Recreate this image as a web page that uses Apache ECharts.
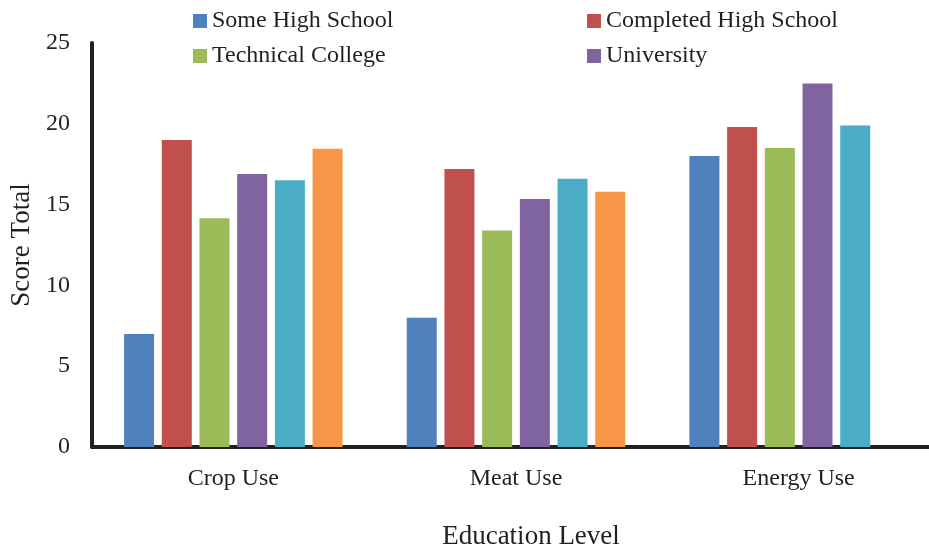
<!DOCTYPE html>
<html>
<head>
<meta charset="utf-8">
<script src="https://cdn.jsdelivr.net/npm/echarts@6/dist/echarts.min.js"></script>
<style>
  html, body { margin: 0; padding: 0; background: #fff; }
  #chart { width: 929px; height: 547px; }
</style>
</head>
<body>
<div id="chart"></div>
<script>
// Score totals by usage category and education level
const categories = ['Crop Use', 'Meat Use', 'Energy Use'];
const someHighSchool      = [7.0, 8.0, 18.0];
const completedHighSchool = [19.0, 17.2, 19.8];
const technicalCollege    = [14.15, 13.4, 18.5];
const university          = [16.9, 15.35, 22.5];
const postgraduate        = [16.5, 16.6, 19.9];
const otherEducation      = [18.45, 15.8, null];
const yTicks = { min: 0, max: 25, interval: 5 };

const FONT = 'Liberation Serif';
const INK = '#231f20';

const chart = echarts.init(document.getElementById('chart'), null, { renderer: 'canvas' });

const mk = (name, data, color) => ({
  name, type: 'bar', data,
  barGap: '25.7%', barCategoryGap: '22.7%',
  itemStyle: { color },
  emphasis: { disabled: true }
});

const legendText = { fontFamily: FONT, fontSize: 24, color: INK };

chart.setOption({
  animation: false,
  textStyle: { fontFamily: FONT },
  legend: [
    {
      data: ['Some High School', 'Technical College'],
      orient: 'vertical', left: 193, top: 9, padding: 0,
      itemWidth: 14, itemHeight: 14, itemGap: 11,
      icon: 'rect', textStyle: legendText, selectedMode: false
    },
    {
      data: ['Completed High School', 'University'],
      orient: 'vertical', left: 587, top: 9, padding: 0,
      itemWidth: 14, itemHeight: 14, itemGap: 11,
      icon: 'rect', textStyle: legendText, selectedMode: false
    }
  ],
  grid: { left: 92, top: 43, width: 848, height: 404, containLabel: false, outerBoundsMode: 'none' },
  xAxis: {
    type: 'category',
    data: categories,
    name: 'Education Level',
    nameLocation: 'middle',
    nameGap: 76,
    nameTextStyle: { fontFamily: FONT, fontSize: 27, color: INK, padding: [0, 0, 0, 30] },
    axisLine: { lineStyle: { color: INK, width: 4 } },
    axisTick: { show: false },
    axisLabel: { fontFamily: FONT, fontSize: 24, color: INK, margin: 20 }
  },
  yAxis: {
    type: 'value',
    min: yTicks.min, max: yTicks.max, interval: yTicks.interval,
    name: 'Score Total',
    nameLocation: 'middle',
    nameGap: 56,
    nameTextStyle: { fontFamily: FONT, fontSize: 27, color: INK },
    axisLine: { show: true, lineStyle: { color: INK, width: 4 } },
    axisTick: { show: false },
    splitLine: { show: false },
    axisLabel: { fontFamily: FONT, fontSize: 24, color: INK, margin: 22 }
  },
  series: [
    mk('Some High School', someHighSchool, '#4F81BD'),
    mk('Completed High School', completedHighSchool, '#C0504D'),
    mk('Technical College', technicalCollege, '#9BBB59'),
    mk('University', university, '#8064A2'),
    mk('Postgraduate', postgraduate, '#4BACC6'),
    mk('Other', otherEducation, '#F79646')
  ]
});
</script>
</body>
</html>
